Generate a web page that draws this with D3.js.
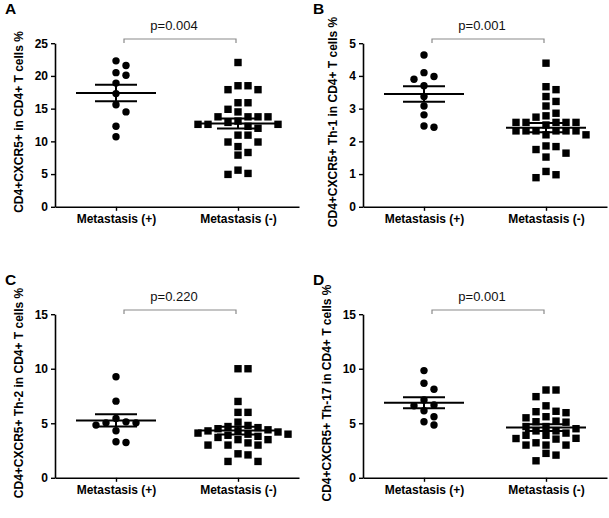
<!DOCTYPE html>
<html>
<head>
<meta charset="utf-8">
<script src="https://cdn.jsdelivr.net/npm/d3@7"></script>
<style>
  body { margin: 0; background: #fff; }
  text { font-family: Arial, "Liberation Sans", sans-serif; }
</style>
</head>
<body>
<script>
// groups on the x axis
const groups = ["Metastasis (+)", "Metastasis (-)"];
const letters = ["A", "B", "C", "D"];
const yLabels = [
  "CD4+CXCR5+ in CD4+ T cells %",
  "CD4+CXCR5+ Th-1 in CD4+ T cells %",
  "CD4+CXCR5+ Th-2 in CD4+ T cells %",
  "CD4+CXCR5+ Th-17 in CD4+ T cells %"
];
const yTicks = [
  [0, 5, 10, 15, 20, 25],
  [0, 1, 2, 3, 4, 5],
  [0, 5, 10, 15],
  [0, 5, 10, 15]
];
const pValues = ["p=0.004", "p=0.001", "p=0.220", "p=0.001"];

// values (approx.)
const posA = [22.3, 21.6, 20.5, 20.1, 18.9, 17.3, 15.6, 14.5, 12.3, 10.7];
const negA = [22.05, 18.5, 18.5, 17.9, 17.9, 15.9, 15.9, 14.9, 14.5, 13.75, 13.75, 13.75, 13.75,
  13.1, 12.9, 12.6, 12.6, 12.6, 12.3, 12.0, 10.95, 10.95, 9.9, 9.9, 9.2, 8.3, 7.9, 5.6, 5.1, 4.95];
const posB = [4.64, 4.10, 3.98, 3.9, 3.70, 3.37, 3.08, 2.81, 2.47, 2.43];
const negB = [4.39, 3.67, 3.58, 3.37, 3.22, 3.08, 2.86, 2.78, 2.74, 2.58, 2.58, 2.58, 2.58, 2.58,
  2.5, 2.32, 2.32, 2.32, 2.32, 2.32, 2.32, 2.2, 2.2, 1.86, 1.84, 1.75, 1.64, 1.52, 1.08, 0.98, 0.89];
const posC = [9.26, 7.03, 5.44, 5.13, 5.04, 5.04, 4.83, 4.31, 3.30, 3.24];
const negC = [10.0, 10.0, 7.0, 6.0, 6.0, 5.1, 4.8, 4.7, 4.6, 4.5, 4.4, 4.3, 4.3, 4.2, 4.1, 4.0, 4.0,
  3.9, 3.8, 3.7, 3.5, 3.5, 3.2, 3.0, 3.0, 3.0, 2.2, 2.1, 1.5, 1.5];
const posD = [9.83, 8.67, 8.12, 7.13, 6.67, 6.6, 6.15, 5.6, 5.14, 4.84];
const negD = [8.05, 8.05, 7.44, 6.6, 6.1, 6.06, 5.97, 5.6, 5.5, 5.2, 5.14, 5.1, 4.7, 4.7, 4.5,
  4.3, 4.3, 4.1, 3.9, 3.9, 3.62, 3.6, 3.55, 3.21, 3.0, 3.0, 3.0, 2.24, 2.08, 1.56];

const posSets = [posA, posB, posC, posD];
const negSets = [negA, negB, negC, negD];

const svg = d3.select("body").append("svg")
  .attr("width", 609)
  .attr("height", 518);
svg.append("rect").attr("width", 609).attr("height", 518).attr("fill", "#fff");

const plotL = 55, plotR = 299, plotT = 43.2, plotB = 206.8;
const mk = 7.4;      // marker size
const colStep = 10; // horizontal spacing in swarm

// simple beeswarm: try centre, then right, left, ...
function swarm(vals, y, cx) {
  const placed = [];
  vals.slice().sort((a, b) => b - a).forEach(v => {
    const py = y(v);
    for (let k = 0; k < 20; k++) {
      const off = k === 0 ? 0 : (k % 2 ? 1 : -1) * Math.ceil(k / 2);
      const px = cx + off * colStep;
      if (!placed.some(q => Math.abs(q.x - px) < mk && Math.abs(q.y - py) < mk + 0.5)) {
        placed.push({ x: px, y: py, v: v });
        break;
      }
    }
  });
  return placed;
}

letters.forEach((letter, i) => {
  const g = svg.append("g")
    .attr("transform", "translate(" + (i % 2) * 308 + "," + Math.floor(i / 2) * 271 + ")");

  const x = d3.scalePoint().domain(groups).range([plotL, plotR]).padding(0.5);
  const y = d3.scaleLinear().domain([0, d3.max(yTicks[i])]).range([plotB, plotT]);

  // y axis
  const ya = g.append("g")
    .attr("transform", "translate(" + plotL + ",0)")
    .call(d3.axisLeft(y).tickValues(yTicks[i]).tickFormat(d3.format("d"))
      .tickSize(4).tickSizeOuter(0).tickPadding(3));
  // x axis
  const xa = g.append("g")
    .attr("transform", "translate(0," + plotB + ")")
    .call(d3.axisBottom(x).tickSize(4).tickSizeOuter(0).tickPadding(4));

  [ya, xa].forEach(a => {
    a.select(".domain").attr("stroke", "#000").attr("stroke-width", 1.6);
    a.selectAll(".tick line").attr("stroke", "#000").attr("stroke-width", 1.4);
    a.selectAll("text")
      .attr("fill", "#000")
      .style("font-size", "12px")
      .style("font-weight", "bold")
      .style("font-family", "Arial, 'Liberation Sans', sans-serif");
  });

  // y label, placed left of the tick labels
  const bb = ya.node().getBBox();
  g.append("text")
    .attr("transform", "translate(" + (plotL + bb.x - 12) + "," + ((plotT + plotB) / 2 - 3) + ") rotate(-90)")
    .attr("text-anchor", "middle")
    .style("font-size", "12px")
    .style("font-weight", "bold")
    .text(yLabels[i]);

  // panel letter
  g.append("text")
    .attr("x", 5).attr("y", 13.5)
    .style("font-size", "15.5px")
    .style("font-weight", "bold")
    .text(letter);

  // p value bracket
  const bx1 = x(groups[0]) + 8, bx2 = x(groups[1]) - 2, by = 39;
  g.append("path")
    .attr("d", "M" + bx1 + "," + (by + 4) + "V" + by + "H" + bx2 + "V" + (by + 4))
    .attr("fill", "none")
    .attr("stroke", "#8a8a8a")
    .attr("stroke-width", 1.2);
  g.append("text")
    .attr("x", (bx1 + bx2) / 2 - 6)
    .attr("y", 29.5)
    .attr("text-anchor", "middle")
    .style("font-size", "13px")
    .attr("fill", "#111")
    .text(pValues[i]);

  // points
  const pos = swarm(posSets[i], y, x(groups[0]));
  const neg = swarm(negSets[i], y, x(groups[1]));

  g.append("g").selectAll("circle")
    .data(pos)
    .join("circle")
    .attr("cx", d => d.x)
    .attr("cy", d => d.y)
    .attr("r", mk / 2)
    .attr("fill", "#000");

  g.append("g").selectAll("rect")
    .data(neg)
    .join("rect")
    .attr("x", d => d.x - mk / 2)
    .attr("y", d => d.y - mk / 2)
    .attr("width", mk)
    .attr("height", mk)
    .attr("fill", "#000");

  // mean +/- SEM
  [posSets[i], negSets[i]].forEach((vals, j) => {
    const cx = x(groups[j]);
    const m = d3.mean(vals);
    const sem = d3.deviation(vals) / Math.sqrt(vals.length);
    const eg = g.append("g").attr("stroke", "#000").attr("stroke-width", 2);
    eg.append("line")
      .attr("x1", cx - 40).attr("x2", cx + 40)
      .attr("y1", y(m)).attr("y2", y(m));
    eg.append("line")
      .attr("x1", cx - 21).attr("x2", cx + 21)
      .attr("y1", y(m + sem)).attr("y2", y(m + sem));
    eg.append("line")
      .attr("x1", cx - 21).attr("x2", cx + 21)
      .attr("y1", y(m - sem)).attr("y2", y(m - sem));
    eg.append("line")
      .attr("x1", cx).attr("x2", cx)
      .attr("y1", y(m + sem)).attr("y2", y(m - sem));
  });
});
</script>
</body>
</html>
